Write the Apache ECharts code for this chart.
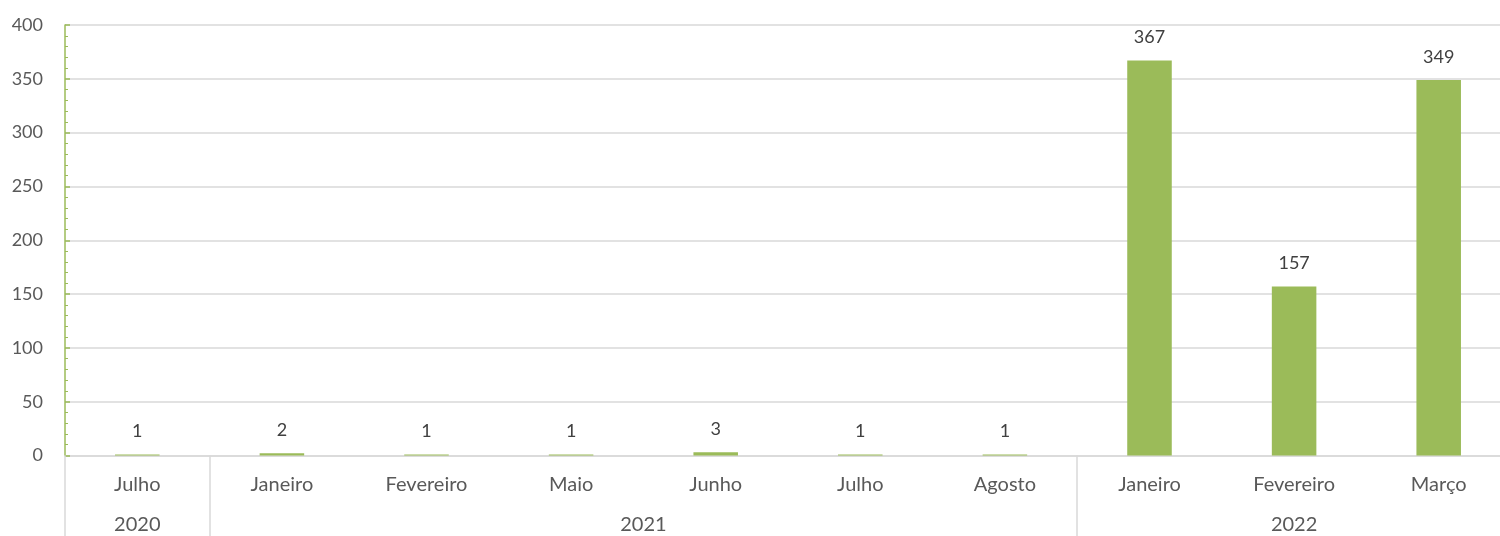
<!DOCTYPE html>
<html>
<head>
<meta charset="utf-8">
<script src="https://cdn.jsdelivr.net/npm/echarts@6/dist/echarts.min.js"></script>
<style>html,body{margin:0;padding:0;background:#fff}#c{width:1500px;height:536px}</style>
</head>
<body>
<div id="c"></div>
<script>
const months = ['Julho','Janeiro','Fevereiro','Maio','Junho','Julho','Agosto','Janeiro','Fevereiro','Março'];
const values = [1,2,1,1,3,1,1,367,157,349];
const years = ['2020','2021','2022'];
const yearCenters = [0.5,4,8.5];
const yearBounds = [0,1,7];
const yTicks = [0,50,100,150,200,250,300,350,400];

const font = 'Lato, "Open Sans", sans-serif';
const chart = echarts.init(document.getElementById('c'));
chart.setOption({
  animation:false,
  grid:{left:65,width:1446,top:25,height:430.5,containLabel:false,outerBoundsMode:'none'},
  xAxis:[{
    type:'category',data:months,position:'bottom',
    axisLine:{show:true,lineStyle:{color:'#d9d9d9',width:1.5}},
    axisTick:{show:false},
    axisLabel:{color:'#595959',fontFamily:font,fontSize:20,margin:19,interval:0}
  },{
    type:'value',min:0,max:10,position:'bottom',
    axisLine:{show:false},
    splitLine:{show:false},
    axisTick:{show:true,customValues:yearBounds,length:81,lineStyle:{color:'#d9d9d9',width:1.5}},
    axisLabel:{show:true,customValues:yearCenters,color:'#595959',fontFamily:font,fontSize:20,margin:59,
      formatter:function(v){const i=yearCenters.indexOf(v);return i>=0?years[i]:'';}}
  }],
  yAxis:{
    type:'value',min:yTicks[0],max:yTicks[yTicks.length-1],interval:50,
    axisLine:{show:true,lineStyle:{color:'#9BBB59',width:1.5}},
    axisTick:{show:true,inside:true,length:5,lineStyle:{color:'#9BBB59',width:1.5}},
    minorTick:{show:true,splitNumber:5,length:3,lineStyle:{color:'#9BBB59',width:1}},
    splitLine:{lineStyle:{color:'#d9d9d9',width:1.5}},
    axisLabel:{color:'#595959',fontFamily:font,fontSize:18,margin:22}
  },
  series:[{
    type:'bar',data:values,xAxisIndex:0,barWidth:'30.8%',
    itemStyle:{color:'#9BBB59'},
    label:{show:true,position:'top',distance:14,color:'#404040',fontFamily:font,fontSize:18}
  }]
});
</script>
</body>
</html>
